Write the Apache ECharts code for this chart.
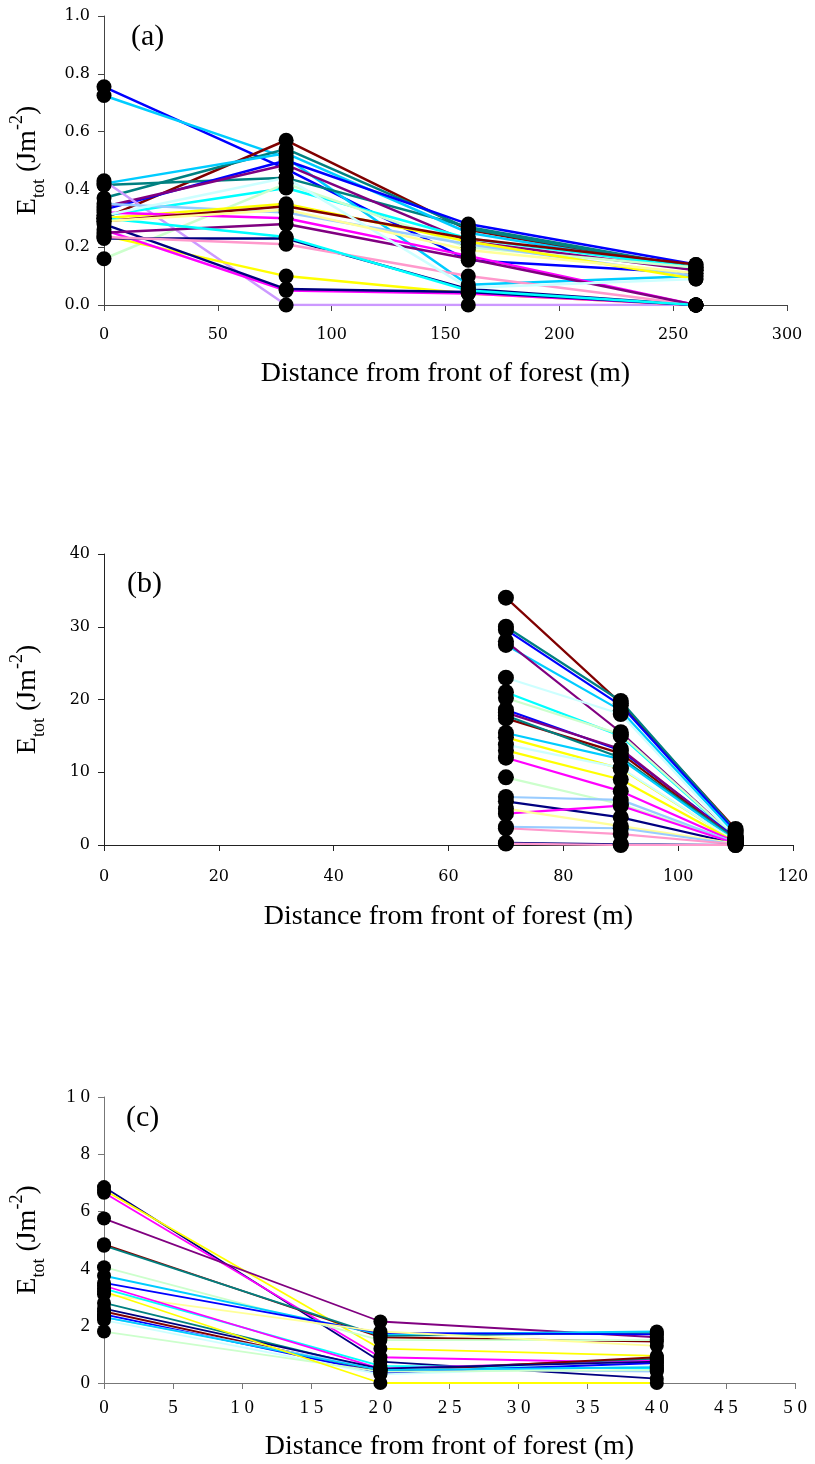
<!DOCTYPE html>
<html><head><meta charset="utf-8">
<script src="https://cdn.jsdelivr.net/npm/echarts@6/dist/echarts.min.js"></script>
<style>html,body{margin:0;padding:0;background:#fff}#c{width:815px;height:1464px}</style>
</head><body><div id="c"></div>
<script>
// ---------- DATA ----------
const xA = [0, 80, 160, 260];
const valsA = [
  [0.755, 0.47, 0.155, 0.11],
  [0.725, 0.51, 0.07, 0.10],
  [0.30, 0.57, 0.26, 0.12],
  [0.37, 0.54, 0.265, 0.125],
  [0.415, 0.44, 0.27, 0.13],
  [0.42, 0.525, 0.25, 0.12],
  [0.33, 0.50, 0.28, 0.14],
  [0.34, 0.485, 0.22, 0.12],
  [0.43, 0.0, 0.0, 0.0],
  [0.31, 0.405, 0.23, 0.13],
  [0.16, 0.42, 0.20, 0.13],
  [0.35, 0.32, 0.21, 0.10],
  [0.30, 0.35, 0.22, 0.09],
  [0.24, 0.10, 0.04, 0.0],
  [0.32, 0.30, 0.17, 0.0],
  [0.26, 0.05, 0.04, 0.0],
  [0.28, 0.055, 0.045, 0.0],
  [0.23, 0.23, 0.055, 0.0],
  [0.235, 0.21, 0.10, 0.0],
  [0.25, 0.28, 0.16, 0.0],
  [0.29, 0.342, 0.23, 0.14],
  [0.30, 0.235, 0.05, 0.0],
  [0.31, 0.44, 0.06, 0.09],
  [0.29, 0.33, 0.19, 0.11]
];
const colorsA = ['#0000FF','#00CCFF','#800000','#008080','#008080','#00CCFF','#0000FF','#800080','#CC99FF','#00FFFF','#CCFFCC','#99CCFF','#FFFF00','#FFFF00','#FF00FF','#FF00FF','#000080','#000080','#FF99CC','#800080','#800000','#00FFFF','#CCFFFF','#FFFF99'];

const xB = [70, 90, 110];
const valsB = [
  [34.0, 19.5, 2.2],
  [30.0, 19.8, 2.0],
  [29.6, 19.2, 1.8],
  [27.5, 18.5, 1.5],
  [28.0, 15.5, 1.0],
  [23.0, 18.0, 1.0],
  [21.0, 15.0, 0.9],
  [20.2, 15.2, 1.0],
  [18.6, 13.0, 1.0],
  [18.2, 13.2, 0.8],
  [17.4, 12.6, 0.7],
  [17.8, 12.0, 0.8],
  [15.4, 11.8, 0.6],
  [14.8, 10.5, 0.5],
  [13.8, 10.6, 0.5],
  [13.0, 9.0, 0.4],
  [12.0, 7.4, 0.4],
  [9.3, 5.6, 0.3],
  [6.6, 6.2, 0.3],
  [6.0, 3.8, 0.2],
  [4.3, 5.4, 0.2],
  [5.0, 2.6, 0.2],
  [2.5, 2.3, 0.1],
  [2.3, 1.5, 0.1],
  [0.3, 0.1, 0.0],
  [0.2, 0.0, 0.0]
];
const colorsB = ['#800000','#008080','#0000FF','#00CCFF','#800080','#CCFFFF','#00FFFF','#CCFFCC','#0000FF','#800080','#800000','#008080','#00CCFF','#FFFF00','#CCFFFF','#FFFF00','#FF00FF','#CCFFCC','#99CCFF','#000080','#FF00FF','#FFFF99','#99CCFF','#FF99CC','#000080','#FF99CC'];

const xC = [0, 20, 40];
const valsC = [
  [6.85, 0.75, 0.15],
  [6.75, 1.2, 0.95],
  [6.65, 0.9, 0.7],
  [5.75, 2.15, 1.6],
  [4.85, 1.6, 1.45],
  [4.8, 1.65, 1.75],
  [4.05, 1.5, 1.5],
  [3.75, 1.7, 1.8],
  [3.5, 1.75, 1.7],
  [3.1, 1.8, 1.3],
  [3.3, 0.6, 0.5],
  [3.4, 0.5, 0.8],
  [2.8, 0.45, 0.85],
  [2.5, 0.4, 0.9],
  [2.4, 0.35, 0.7],
  [2.3, 0.5, 0.4],
  [2.2, 0.3, 0.6],
  [1.8, 0.4, 0.45],
  [2.6, 0.5, 0.75],
  [2.3, 0.45, 0.55],
  [3.2, 0.0, 0.0]
];
const colorsC = ['#000080','#FFFF00','#FF00FF','#800080','#800000','#008080','#CCFFCC','#00CCFF','#0000FF','#FFFF99','#00FFFF','#FF00FF','#008080','#800000','#0000FF','#99CCFF','#CCFFFF','#CCFFCC','#000080','#00CCFF','#FFFF00'];

const ticksA = {min: 0, max: 300, interval: 50, ymin: 0, ymax: 1, yint: 0.2};
const ticksB = {min: 0, max: 120, interval: 20, ymin: 0, ymax: 40, yint: 10};
const ticksC = {min: 0, max: 50, interval: 5, ymin: 0, ymax: 10, yint: 2};

const xTitle = 'Distance from front of forest (m)';
const panelLabels = ['(a)', '(b)', '(c)'];

// ---------- CHART ----------
const chart = echarts.init(document.getElementById('c'), null, {renderer: 'canvas'});
const serif = 'Liberation Serif';
const tickFont = 'DejaVu Serif';
const grids = [
  {left: 104, top: 16, width: 683, height: 289},
  {left: 100, top: 554, width: 693, height: 291},
  {left: 103, top: 1097, width: 692, height: 286}
];
const yName = '{e|E}{sub|tot}{e| (Jm}{sup|-2}{e|)}';
const yRich = {
  e: {fontFamily: serif, fontSize: 28, lineHeight: 40, color: '#000'},
  sub: {fontFamily: serif, fontSize: 18, lineHeight: 18, verticalAlign: 'bottom', color: '#000'},
  sup: {fontFamily: serif, fontSize: 18, lineHeight: 18, verticalAlign: 'top', color: '#000'}
};
const spaced = v => String(v).split('').join('\u2005');
const panels = [
  {x: xA, vals: valsA, colors: colorsA, t: ticksA, sym: 15, lw: 2.5, axisColor: '#444', yfmt: v => v.toFixed(1), xfmt: v => String(v),
   tf: tickFont, tfs: 16, xm: 22, ng: 55},
  {x: xB, vals: valsB, colors: colorsB, t: ticksB, sym: 16, lw: 2.2, axisColor: '#222', yfmt: v => String(v), xfmt: v => String(v),
   tf: tickFont, tfs: 16, xm: 24, ng: 58},
  {x: xC, vals: valsC, colors: colorsC, t: ticksC, sym: 14, lw: 1.8, axisColor: '#777', yfmt: spaced, xfmt: spaced,
   tf: serif, tfs: 19, xm: 16, ng: 50}
];
const xAxis = [], yAxis = [], series = [], title = [];
panels.forEach((p, i) => {
  xAxis.push({
    type: 'value', gridIndex: i, min: p.t.min, max: p.t.max, interval: p.t.interval,
    name: xTitle, nameLocation: 'middle', nameGap: p.ng,
    nameTextStyle: {fontFamily: serif, fontSize: 28, color: '#000'},
    axisLine: {onZero: false, lineStyle: {color: p.axisColor, width: 1}},
    axisTick: {show: true, inside: false, length: 6, lineStyle: {color: p.axisColor}},
    axisLabel: {fontFamily: p.tf, fontSize: p.tfs, color: '#000', margin: p.xm, formatter: p.xfmt},
    splitLine: {show: false}
  });
  yAxis.push({
    type: 'value', gridIndex: i, min: p.t.ymin, max: p.t.ymax, interval: p.t.yint,
    name: yName, nameLocation: 'middle', nameGap: 56, nameRotate: 90,
    nameTextStyle: {rich: yRich},
    axisLine: {show: true, lineStyle: {color: p.axisColor, width: 1}},
    axisTick: {show: true, inside: false, length: 6, lineStyle: {color: p.axisColor}},
    axisLabel: {fontFamily: p.tf, fontSize: p.tfs, color: '#000', margin: 14, formatter: p.yfmt},
    splitLine: {show: false}
  });
  p.vals.forEach((row, k) => {
    series.push({
      type: 'line', xAxisIndex: i, yAxisIndex: i, showSymbol: false, silent: true,
      data: row.map((v, j) => [p.x[j], v]),
      lineStyle: {color: p.colors[k % p.colors.length], width: p.lw},
      itemStyle: {color: p.colors[k % p.colors.length]},
      z: 2, animation: false
    });
  });
  const pts = [];
  p.vals.forEach(row => row.forEach((v, j) => pts.push([p.x[j], v])));
  series.push({
    type: 'scatter', xAxisIndex: i, yAxisIndex: i, data: pts, symbol: 'circle',
    symbolSize: p.sym, itemStyle: {color: '#000', opacity: 1}, z: 5, animation: false, silent: true
  });
  title.push({
    text: panelLabels[i], left: grids[i].left + (i === 2 ? 18 : 22), top: grids[i].top + (i === 1 ? 10 : 1),
    textStyle: {fontFamily: serif, fontSize: 30, fontWeight: 'normal', color: '#000'}
  });
});
chart.setOption({
  animation: false, backgroundColor: '#fff',
  title: title, grid: grids, xAxis: xAxis, yAxis: yAxis, series: series
});
</script></body></html>
